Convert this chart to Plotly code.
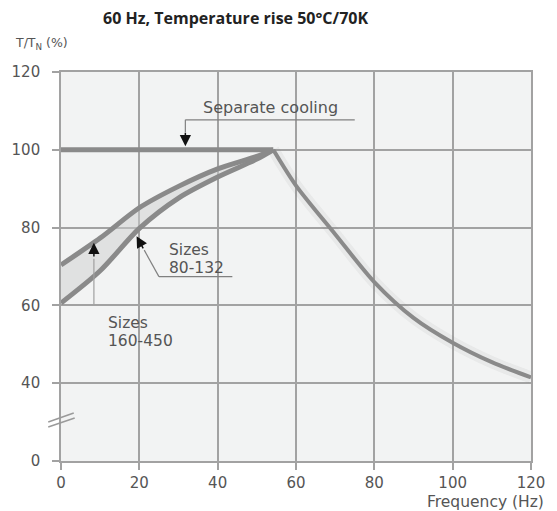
import plotly.graph_objects as go

# ---- data ----
freq_flat = [0, 54.2]
torque_flat = [100, 100]

freq_fw = [54.2, 60, 70, 80, 90, 100, 110, 120]
torque_fw = [100, 90.8, 78.3, 66, 56.8, 50.4, 45.4, 41.5]

freq_small = [0, 10, 20, 30, 40, 50, 54.2]          # sizes 80-132 (lower curve)
torque_small = [60.6, 68.9, 79.8, 87.6, 93, 97.6, 100]

freq_large = [0, 10, 20, 30, 40, 50, 54.2]          # sizes 160-450 (upper curve)
torque_large = [70.4, 77.3, 85.1, 90.6, 95.1, 98.3, 100]

x_ticks = [0, 20, 40, 60, 80, 100, 120]
y_tickvals = [20, 40, 60, 80, 100, 120]   # axis is broken: "0" drawn where 20 would be
y_ticktext = ["0", "40", "60", "80", "100", "120"]

CURVE = "#8a8a8a"
GRID = "#a2a2a2"
TXT = "#555555"
FONT = "DejaVu Sans"

W, H = 557, 511
L, R, T, B = 60, 17, 72, 50
pw, ph = W - L - R, H - T - B
def px2paper(px, py):
    return (px - L) / pw, (H - B - py) / ph

fig = go.Figure()

# shading between the two self-cooled curves
fig.add_trace(go.Scatter(x=freq_small, y=torque_small, mode="lines",
                         line=dict(width=0, shape="spline"), hoverinfo="skip", showlegend=False))
fig.add_trace(go.Scatter(x=freq_large, y=torque_large, mode="lines", fill="tonexty",
                         fillcolor="rgba(205,208,208,0.5)",
                         line=dict(width=0, shape="spline"), hoverinfo="skip", showlegend=False))

# soft shadow under the field-weakening curve
fig.add_trace(go.Scatter(x=freq_fw, y=torque_fw, mode="lines",
                         line=dict(color="rgba(120,120,120,0.08)", width=12, shape="spline"),
                         hoverinfo="skip", showlegend=False))

for xs, ys, w in [(freq_small, torque_small, 5), (freq_large, torque_large, 5),
                  (freq_flat, torque_flat, 5), (freq_fw, torque_fw, 4)]:
    fig.add_trace(go.Scatter(x=xs, y=ys, mode="lines",
                             line=dict(color=CURVE, width=w, shape="spline", smoothing=0.8),
                             hoverinfo="skip", showlegend=False))

shapes = []
def seg(x0, y0, x1, y1, color="#808080", width=1.2, xref="x", yref="y"):
    shapes.append(dict(type="line", x0=x0, y0=y0, x1=x1, y1=y1, xref=xref, yref=yref,
                       line=dict(color=color, width=width), layer="above"))

# leader lines
seg(31.75, 107.7, 75, 107.7)          # separate cooling underline
seg(31.75, 107.7, 31.75, 104.5)
seg(25, 67.4, 43.75, 67.4)            # sizes 80-132 underline
seg(25, 67.4, 21.25, 74.2)
seg(8.4, 72.0, 8.4, 60.3, color="#a0a0a0")  # sizes 160-450 leader

# axis break marks (pixel positions -> paper coords)
for (xa, ya, xb, yb) in [(47, 422, 73, 413), (47, 427, 74, 418)]:
    p0 = px2paper(xa, ya); p1 = px2paper(xb, yb)
    seg(p0[0], p0[1], p1[0], p1[1], color="#9a9a9a", width=1.5, xref="paper", yref="paper")

annotations = []
def arrow(xt, yt, xb, yb):
    annotations.append(dict(x=xt, y=yt, ax=xb, ay=yb, xref="x", yref="y", axref="x", ayref="y",
                            text="", showarrow=True, arrowhead=2, arrowsize=1.5,
                            arrowwidth=1.5, arrowcolor="#111111"))

arrow(31.75, 100.9, 31.75, 104.8)
arrow(19.3, 77.8, 21.2, 74.3)
arrow(8.4, 76.1, 8.4, 72.2)

def label(x, y, text, xanchor="left", yanchor="middle", size=15.5):
    annotations.append(dict(x=x, y=y, xref="x", yref="y", text=text, showarrow=False,
                            xanchor=xanchor, yanchor=yanchor, align="left",
                            font=dict(family=FONT, size=size, color=TXT)))

label(53.5, 110.9, "Separate cooling", xanchor="center", yanchor="middle", size=16)
label(27, 74.2, "Sizes")
label(27, 69.6, "80-132")
label(11.5, 55.6, "Sizes")
label(11.5, 50.8, "160-450")

# title and axis titles (pixel positions -> paper coords)
tx, ty = px2paper(238, 18)
annotations.append(dict(x=tx, y=ty, xref="paper", yref="paper", xanchor="center", yanchor="middle",
                        text="<b>60 Hz, Temperature rise 50°C/70K</b>",
                        showarrow=False, font=dict(family="Open Sans", size=16, color="#222222")))
yx, yy = px2paper(11, 43)
annotations.append(dict(x=yx, y=yy, xref="paper", yref="paper", xanchor="left", yanchor="middle",
                        text="T/T<sub>N</sub> (%)", showarrow=False,
                        font=dict(family=FONT, size=12.5, color=TXT)))
fx, fy = px2paper(555, 502)
annotations.append(dict(x=fx, y=fy, xref="paper", yref="paper", xanchor="right", yanchor="middle",
                        text="Frequency (Hz)", showarrow=False,
                        font=dict(family=FONT, size=15.5, color=TXT)))

fig.update_layout(
    width=W, height=H, margin=dict(l=L, r=R, t=T, b=B),
    paper_bgcolor="white", plot_bgcolor="#f2f3f3",
    shapes=shapes, annotations=annotations, showlegend=False,
    font=dict(family=FONT, color=TXT),
)
fig.update_xaxes(range=[0, 120], tickvals=x_ticks, showgrid=True, gridcolor=GRID, gridwidth=1.6,
                 showline=True, linecolor=GRID, linewidth=1.6, mirror=True,
                 ticks="outside", ticklen=7, tickwidth=1.6, tickcolor=GRID,
                 tickfont=dict(family=FONT, size=15, color=TXT), zeroline=False,
                 ticklabelstandoff=0, fixedrange=True)
fig.update_yaxes(range=[20, 120], tickvals=y_tickvals, ticktext=y_ticktext, showgrid=True,
                 gridcolor=GRID, gridwidth=1.6, showline=True, linecolor=GRID, linewidth=1.6,
                 mirror=True, ticks="outside", ticklen=7, tickwidth=1.6, tickcolor=GRID,
                 tickfont=dict(family=FONT, size=15, color=TXT), zeroline=False,
                 ticklabelstandoff=9, fixedrange=True)

fig.write_html("out.html")
